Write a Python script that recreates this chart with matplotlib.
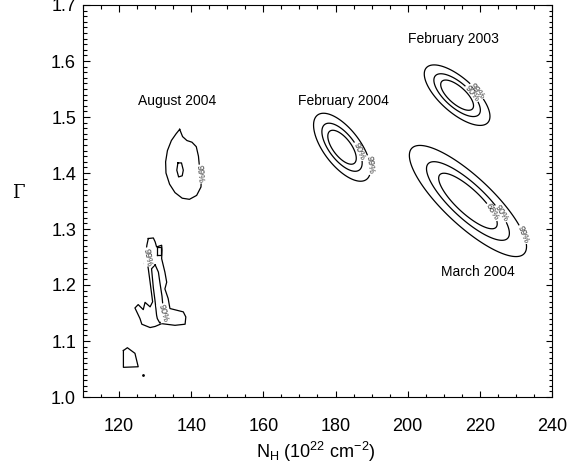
import numpy as np
import matplotlib.pyplot as plt
from matplotlib.ticker import MultipleLocator

plt.rcParams['font.family'] = ['Liberation Sans', 'DejaVu Sans']
plt.rcParams['mathtext.fontset'] = 'custom'
plt.rcParams['mathtext.rm'] = 'Liberation Sans'
plt.rcParams['mathtext.it'] = 'Liberation Sans:italic'

# best fit N_H / Gamma, 1-sigma errors and correlation (elliptical fits)
obs_names = ["February 2003", "February 2004", "March 2004"]
nh_best = [213.7, 181.8, 216.7]
gamma_best = [1.539, 1.446, 1.350]
nh_err = [3.0, 2.6, 5.35]
gamma_err = [0.0178, 0.020, 0.0327]
corr = [-0.70, -0.65, -0.82]

# delta chi^2 for two interesting parameters
conf_levels = [2.30, 4.61, 9.21]
conf_names = ["68%", "90%", "99%"]

# August 2004: irregular contours traced from the fit
aug_upper_nh = [136.8, 135.8, 134.5, 133.4, 132.9, 133.0, 134.0, 135.5, 137.5, 139.5,
                141.5, 142.7, 142.8, 142.3, 142.0, 141.4, 140.2, 138.8, 137.6, 136.8]
aug_upper_g = [1.478, 1.470, 1.458, 1.440, 1.420, 1.400, 1.380, 1.365, 1.355, 1.353,
               1.360, 1.375, 1.390, 1.410, 1.430, 1.447, 1.455, 1.458, 1.465, 1.478]
aug_core_nh = [136.3, 137.3, 137.8, 137.5, 136.5, 136.0, 136.3]
aug_core_g = [1.418, 1.418, 1.405, 1.395, 1.393, 1.405, 1.418]

aug_low99_nh = [128.1, 129.5, 130.0, 130.4, 131.8, 131.9, 131.8, 132.7, 133.2, 132.7,
                133.6, 134.1, 137.8, 138.5, 138.3, 135.5, 131.8, 130.0, 128.6, 126.3,
                125.8, 124.4, 125.3, 126.7, 127.2, 128.6, 129.3, 128.9, 128.6, 128.1,
                127.4, 127.7, 128.1]
aug_low99_g = [1.283, 1.284, 1.277, 1.268, 1.271, 1.2625, 1.247, 1.223, 1.205, 1.193,
               1.176, 1.158, 1.152, 1.143, 1.130, 1.128, 1.131, 1.126, 1.124, 1.130,
               1.140, 1.159, 1.165, 1.156, 1.169, 1.161, 1.170, 1.190, 1.205, 1.229,
               1.254, 1.271, 1.283]
aug_loop_nh = [127.0, 128.6, 128.6, 127.0, 127.0]
aug_loop_g = [1.240, 1.240, 1.259, 1.259, 1.240]
aug_low90_nh = [130.0, 130.9, 131.3, 131.9, 132.3, 132.0, 131.3, 130.6, 130.4, 130.0,
                129.5, 129.0, 130.0]
aug_low90_g = [1.236, 1.223, 1.205, 1.180, 1.152, 1.136, 1.132, 1.140, 1.146, 1.170,
               1.195, 1.229, 1.236]
aug_box_nh = [130.5, 131.7, 131.7, 130.5, 130.5]
aug_box_g = [1.254, 1.254, 1.268, 1.268, 1.254]
aug_foot_nh = [121.2, 122.3, 124.4, 125.3, 121.2, 121.2]
aug_foot_g = [1.083, 1.088, 1.078, 1.054, 1.053, 1.083]
aug_dot = (126.7, 1.039)

fig = plt.figure(figsize=(5.82, 4.68), dpi=100)
ax = fig.add_axes([83 / 582, 71 / 468, 469 / 582, 392 / 468])

nh = np.linspace(110, 240, 700)
gg = np.linspace(1.0, 1.7, 700)
NH, GG = np.meshgrid(nh, gg)

label_pos = [
    {4.61: (216.8, 1.536), 9.21: (219.0, 1.545)},
    {4.61: (187.4, 1.441), 9.21: (189.3, 1.414)},
    {2.30: (223.4, 1.330), 4.61: (225.8, 1.327), 9.21: (233.1, 1.293)},
]
fmt = dict(zip(conf_levels, conf_names))
lab_col = '0.2'

for i in range(len(obs_names)):
    dx = (NH - nh_best[i]) / nh_err[i]
    dy = (GG - gamma_best[i]) / gamma_err[i]
    r = corr[i]
    chi = (dx**2 - 2 * r * dx * dy + dy**2) / (1 - r**2)
    for lvl in conf_levels:
        cs = ax.contour(NH, GG, chi, levels=[lvl], colors='k', linewidths=0.9)
        if lvl in label_pos[i]:
            ax.clabel(cs, fmt=fmt, fontsize=6.5, colors=lab_col,
                      inline=True, inline_spacing=1, manual=[label_pos[i][lvl]])

for xs, ys in [(aug_upper_nh, aug_upper_g), (aug_core_nh, aug_core_g),
               (aug_low99_nh, aug_low99_g), (aug_loop_nh, aug_loop_g),
               (aug_low90_nh, aug_low90_g), (aug_box_nh, aug_box_g),
               (aug_foot_nh, aug_foot_g)]:
    ax.plot(xs, ys, color='k', lw=0.9)
ax.plot(*aug_dot, 'k.', ms=2)

box = dict(facecolor='white', edgecolor='none', pad=0.3)
ax.text(142.4, 1.398, "99%", fontsize=6.5, color=lab_col, rotation=-85,
        ha='center', va='center', bbox=box)
ax.text(127.8, 1.250, "99%", fontsize=6.5, color=lab_col, rotation=-80,
        ha='center', va='center', bbox=box)
ax.text(132.3, 1.150, "90%", fontsize=6.5, color=lab_col, rotation=-75,
        ha='center', va='center', bbox=box)

ax.text(136.0, 1.529, "August 2004", fontsize=10, ha='center', va='center')
ax.text(182.3, 1.529, "February 2004", fontsize=10, ha='center', va='center')
ax.text(212.8, 1.639, "February 2003", fontsize=10, ha='center', va='center')
ax.text(219.5, 1.224, "March 2004", fontsize=10, ha='center', va='center')

ax.set_xlim(110, 240)
ax.set_ylim(1.0, 1.7)
ax.xaxis.set_major_locator(MultipleLocator(20))
ax.xaxis.set_minor_locator(MultipleLocator(5))
ax.yaxis.set_major_locator(MultipleLocator(0.1))
ax.yaxis.set_minor_locator(MultipleLocator(0.01))
ax.yaxis.set_major_formatter(plt.FormatStrFormatter('%.1f'))
ax.tick_params(which='both', direction='in', top=True, right=True, width=0.8)
ax.tick_params(which='major', length=6.5 * 0.72)
ax.tick_params(which='minor', length=3.5 * 0.72)
ax.tick_params(axis='x', labelsize=13, pad=15)
ax.tick_params(axis='y', labelsize=13, pad=5)
for s in ax.spines.values():
    s.set_linewidth(0.8)

ax.set_xlabel(r'N$_{\rm H}$ (10$^{22}$ cm$^{-2}$)', fontsize=13)
ax.xaxis.set_label_coords(0.497, -0.11)
ax.set_ylabel('Γ', fontsize=13, family='DejaVu Serif', rotation=0)
ax.yaxis.set_label_coords(-0.139, 0.497)

fig.savefig('out.png', dpi=100)
